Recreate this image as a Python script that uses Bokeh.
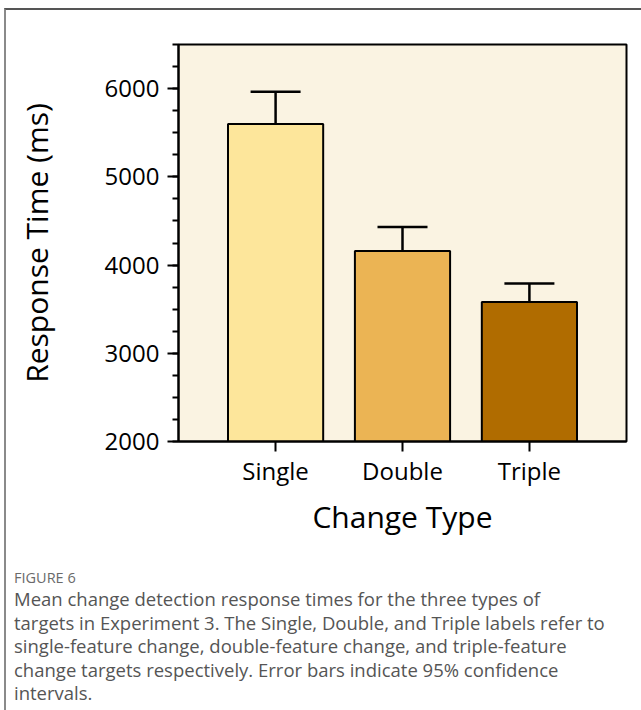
from bokeh.plotting import figure
from bokeh.layouts import column
from bokeh.models import (ColumnDataSource, FactorRange, Range1d, Whisker, TeeHead,
                          FixedTicker, Div)
from bokeh.embed import file_html
from bokeh.resources import INLINE

# ---- data ----
categories = ["Single", "Double", "Triple"]
mean_rt = [5600, 4160, 3580]
ci_upper = [5965, 4430, 3790]
ci_lower = [5245, 3915, 3395]
bar_colors = ["#FDE69B", "#EBB454", "#B06C00"]
y_ticks = [2000, 3000, 4000, 5000, 6000]

caption_head = "FIGURE 6"
caption_lines = [
    "Mean change detection response times for the three types of",
    "targets in Experiment 3. The Single, Double, and Triple labels refer to",
    "single-feature change, double-feature change, and triple-feature",
    "change targets respectively. Error bars indicate 95% confidence",
    "intervals.",
]

FONT = "Open Sans"

# page geometry: container starts at x=6, y=10 (after margin + 2px border)
W = 635
CHART_H = 545
CAP_H = 700 - CHART_H

src = ColumnDataSource(dict(cat=categories, mean=mean_rt, upper=ci_upper,
                            lower=ci_lower, color=bar_colors))

p = figure(width=W, height=CHART_H, output_backend="svg", toolbar_location=None,
           x_range=FactorRange(factors=categories, range_padding=0.1767,
                               range_padding_units="percent"),
           y_range=Range1d(2000, 6500),
           min_border_left=172, min_border_right=15, min_border_top=34,
           min_border_bottom=CHART_H - 431)

p.background_fill_color = "#FAF3E2"
p.border_fill_color = "white"
p.outline_line_color = "black"
p.outline_line_width = 2
p.grid.visible = False

p.vbar(x="cat", top="mean", bottom=0, width=0.75, source=src,
       fill_color="color", line_color="black", line_width=2)

w = Whisker(base="cat", upper="upper", lower="lower", source=src,
            line_color="black", line_width=2.5,
            upper_head=TeeHead(size=50, line_color="black", line_width=2.5),
            lower_head=TeeHead(size=50, line_color="black", line_width=2.5))
p.add_layout(w)

for ax in (p.xaxis[0], p.yaxis[0]):
    ax.axis_line_width = 2
    ax.axis_line_color = "black"
    ax.major_tick_line_width = 2
    ax.major_tick_line_color = "black"
    ax.major_label_text_font = FONT
    ax.major_label_text_font_size = "24px"
    ax.major_label_text_color = "black"
    ax.axis_label_text_font = FONT
    ax.axis_label_text_font_style = "normal"
    ax.axis_label_text_color = "black"
    ax.major_tick_in = 0

p.yaxis.axis_label = "Response Time (ms)"
p.yaxis.axis_label_text_font_size = "30px"
p.yaxis.ticker = FixedTicker(ticks=y_ticks,
                             minor_ticks=list(range(2000, 6501, 250)))
p.yaxis.major_tick_out = 11
p.yaxis.minor_tick_out = 6
p.yaxis.minor_tick_in = 0
p.yaxis.minor_tick_line_width = 2
p.yaxis.minor_tick_line_color = "black"
p.yaxis.major_label_standoff = 8
p.yaxis.axis_label_standoff = 45

p.xaxis.axis_label = "Change Type"
p.xaxis.axis_label_text_font_size = "30px"
p.xaxis.major_tick_out = 10
p.xaxis.major_label_standoff = 2
p.xaxis.axis_label_standoff = 6

# ---- caption ----
cap_html = (
    "<div style=\"font-family:'Open Sans',sans-serif; padding:14px 0 0 8px;\">"
    f"<div style=\"font-size:14.5px; line-height:18px; color:#6a6a6a;\">{caption_head}</div>"
    "<div style=\"font-size:18.5px; line-height:23.5px; color:#555555;\">"
    + "<br>".join(caption_lines) +
    "</div></div>"
)
cap = Div(text=cap_html, width=W, height=CAP_H,
          styles={"margin": "0", "padding": "0"})

layout = column(p, cap, spacing=0,
                styles={"margin-left": "4px", "margin-top": "8px",
                        "border-left": "2px solid #8a8a8a",
                        "border-top": "2px solid #555555"})

open("out.html", "w").write(file_html(layout, INLINE))
